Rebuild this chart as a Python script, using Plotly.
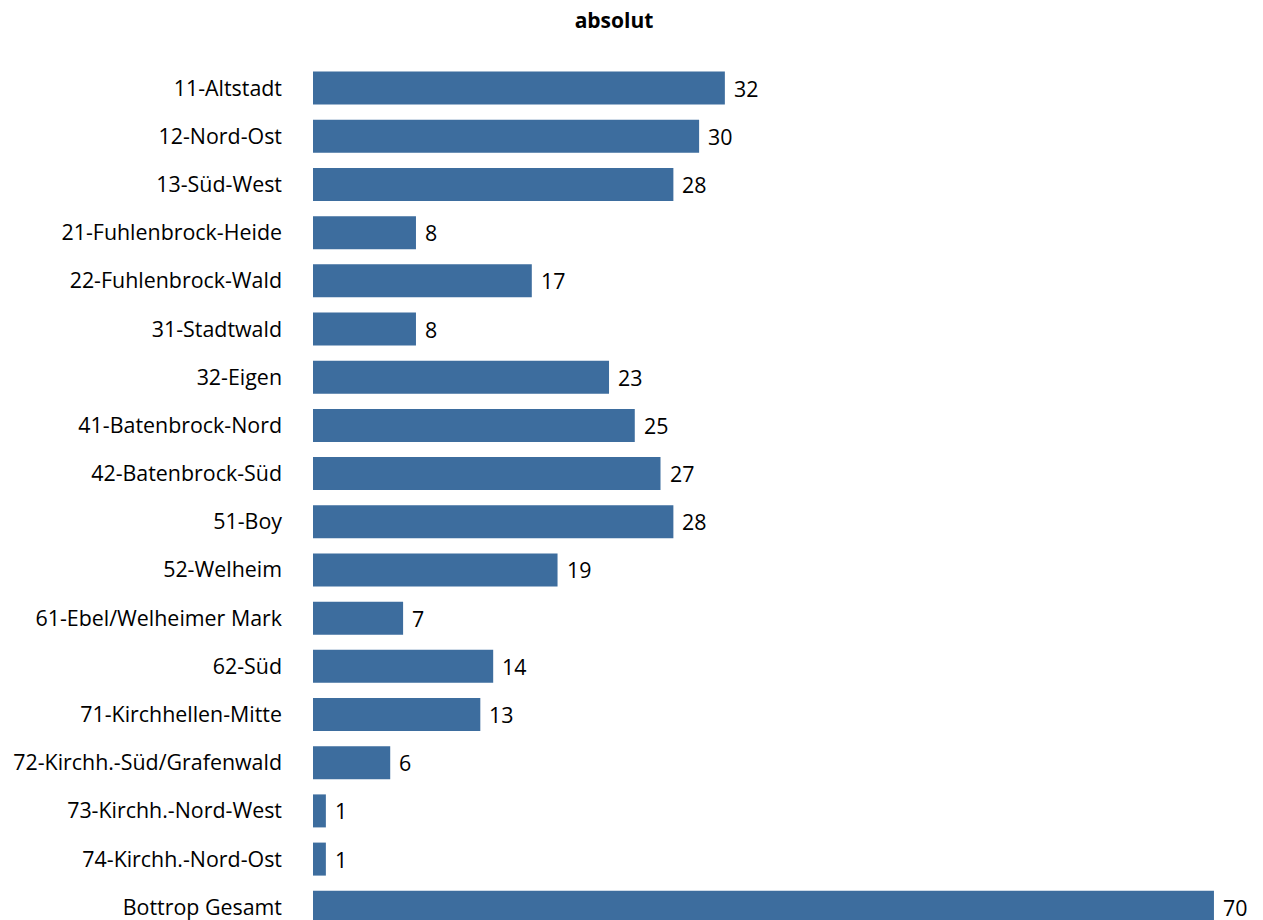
import plotly.graph_objects as go

categories = [
    "11-Altstadt", "12-Nord-Ost", "13-Süd-West", "21-Fuhlenbrock-Heide",
    "22-Fuhlenbrock-Wald", "31-Stadtwald", "32-Eigen", "41-Batenbrock-Nord",
    "42-Batenbrock-Süd", "51-Boy", "52-Welheim", "61-Ebel/Welheimer Mark",
    "62-Süd", "71-Kirchhellen-Mitte", "72-Kirchh.-Süd/Grafenwald",
    "73-Kirchh.-Nord-West", "74-Kirchh.-Nord-Ost", "Bottrop Gesamt",
]
values = [32, 30, 28, 8, 17, 8, 23, 25, 27, 28, 19, 7, 14, 13, 6, 1, 1, 70]

BAR = "#3d6d9e"
FONT = "Open Sans, Noto Sans, sans-serif"
FS = 21.4

fig = go.Figure()
fig.add_trace(go.Bar(
    x=values, y=categories, orientation="h",
    marker=dict(color=BAR, line=dict(width=0)),
    width=0.685,
    hoverinfo="skip",
))
for c, v in zip(categories, values):
    fig.add_annotation(x=v, y=c, text=str(v), showarrow=False,
                       xanchor="left", yanchor="middle", xshift=7,
                       font=dict(size=FS, color="#000000", family=FONT))

fig.update_layout(
    width=1263, height=920,
    margin=dict(l=305, r=12, t=56, b=0),
    paper_bgcolor="white", plot_bgcolor="white",
    showlegend=False,
    font=dict(family=FONT, size=FS, color="#000000"),
    title=dict(text="<b>absolut</b>", x=606 / 1263, xanchor="center", xref="container",
               y=1 - 13 / 920, yanchor="middle", yref="container",
               font=dict(size=21, color="#000000", family=FONT)),
    xaxis=dict(range=[0, 73.5], visible=False, fixedrange=True),
    yaxis=dict(categoryorder="array", categoryarray=categories,
               range=[17.43, -0.5], showgrid=False, zeroline=False,
               showline=False, ticks="", ticklabelstandoff=30,
               tickfont=dict(size=FS, color="#000000", family=FONT)),
)
fig.write_html("out.html")
